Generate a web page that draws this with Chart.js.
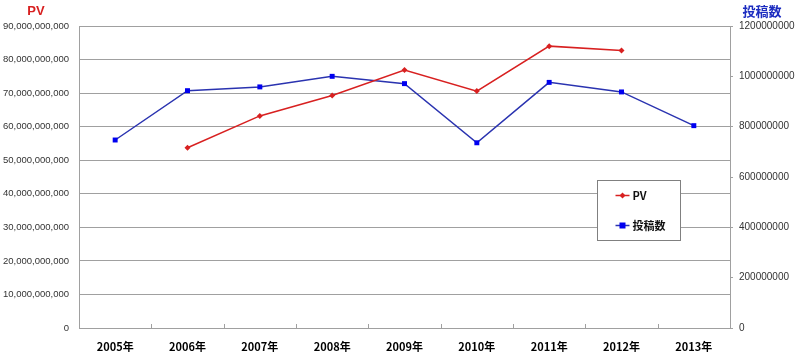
<!DOCTYPE html>
<html>
<head>
<meta charset="utf-8">
<script src="https://cdn.jsdelivr.net/npm/chart.js@4"></script>
<style>
html,body{margin:0;padding:0;background:#fff;}
#wrap{width:800px;height:359px;position:relative;}
</style>
</head>
<body>
<div id="wrap"><canvas id="c" width="800" height="359"></canvas></div>
<script>
const categories = ['2005年','2006年','2007年','2008年','2009年','2010年','2011年','2012年','2013年'];
const pvValues = [null, 53.7e9, 63.2e9, 69.3e9, 76.9e9, 70.6e9, 84.0e9, 82.7e9, null];
const postValues = [747e6, 943e6, 958e6, 1000e6, 971e6, 736e6, 976e6, 938e6, 804e6];
const leftTitle = 'PV';
const rightTitle = '投稿数';
const legendLabels = ['PV', '投稿数'];

const RED = '#d82020';
const BLUE_LINE = '#2a33b0';
const BLUE_PT = '#0000f0';
const GRID = '#a0a0a0';

const titlesPlugin = {
  id: 'titles',
  afterDraw(chart) {
    const ctx = chart.ctx;
    ctx.save();
    ctx.font = 'bold 13px "Liberation Sans", Arial, "Noto Sans CJK JP"';
    ctx.textAlign = 'center';
    ctx.textBaseline = 'middle';
    ctx.fillStyle = RED;
    ctx.fillText(leftTitle, 36, 11);
    ctx.fillStyle = '#1c2cc0';
    ctx.font = 'bold 13px "Noto Sans CJK JP", sans-serif';
    ctx.fillText(rightTitle, 762, 11);
    ctx.restore();
  }
};

const xTicksPlugin = {
  id: 'xInwardTicks',
  afterDatasetsDraw(chart) {
    const ctx = chart.ctx, xs = chart.scales.x, a = chart.chartArea;
    ctx.save();
    ctx.strokeStyle = GRID;
    ctx.lineWidth = 1;
    for (let i = 1; i < categories.length; i++) {
      const px = Math.round((xs.getPixelForTick(i - 1) + xs.getPixelForTick(i)) / 2) + 0.5;
      ctx.beginPath();
      ctx.moveTo(px, a.bottom);
      ctx.lineTo(px, a.bottom - 4);
      ctx.stroke();
    }
    ctx.restore();
  }
};

const legendPlugin = {
  id: 'boxLegend',
  afterDraw(chart) {
    const ctx = chart.ctx;
    const x = 597.5, y = 180.5, w = 83, h = 60;
    ctx.save();
    ctx.fillStyle = '#fff';
    ctx.fillRect(x, y, w, h);
    ctx.strokeStyle = '#808080';
    ctx.lineWidth = 1;
    ctx.strokeRect(x, y, w, h);
    const rows = [
      {label: legendLabels[0], color: RED, pt: RED, style: 'diamond', yy: y + 15},
      {label: legendLabels[1], color: BLUE_LINE, pt: BLUE_PT, style: 'square', yy: y + 45}
    ];
    rows.forEach(r => {
      ctx.strokeStyle = r.color;
      ctx.lineWidth = 1.5;
      ctx.beginPath();
      ctx.moveTo(x + 18, r.yy);
      ctx.lineTo(x + 32, r.yy);
      ctx.stroke();
      ctx.fillStyle = r.pt;
      const cx = x + 25;
      if (r.style === 'diamond') {
        ctx.beginPath();
        ctx.moveTo(cx, r.yy - 3); ctx.lineTo(cx + 3, r.yy); ctx.lineTo(cx, r.yy + 3); ctx.lineTo(cx - 3, r.yy);
        ctx.closePath(); ctx.fill();
      } else {
        ctx.fillRect(cx - 3, r.yy - 3, 6, 6);
      }
      ctx.fillStyle = '#111';
      ctx.font = 'bold 11px "Noto Sans CJK JP", sans-serif';
      ctx.textAlign = 'left';
      ctx.textBaseline = 'middle';
      ctx.fillText(r.label, x + 35, r.yy);
    });
    ctx.restore();
  }
};

new Chart(document.getElementById('c'), {
  type: 'line',
  data: {
    labels: categories,
    datasets: [
      {
        label: legendLabels[0], data: pvValues, yAxisID: 'y',
        borderColor: RED, backgroundColor: RED, borderWidth: 1.5,
        pointStyle: 'rectRot', pointRadius: 3, pointBorderWidth: 0,
        pointBackgroundColor: RED, tension: 0, spanGaps: false
      },
      {
        label: legendLabels[1], data: postValues, yAxisID: 'y1',
        borderColor: BLUE_LINE, backgroundColor: BLUE_PT, borderWidth: 1.5,
        pointStyle: 'rect', pointRadius: 3.5, pointBorderWidth: 0,
        pointBackgroundColor: BLUE_PT, tension: 0
      }
    ]
  },
  options: {
    responsive: false,
    animation: false,
    layout: {padding: {top: 26, left: 0, right: 0, bottom: 0}},
    plugins: {legend: {display: false}, tooltip: {enabled: false}},
    scales: {
      x: {
        offset: true,
        grid: {display: false},
        border: {display: true, color: GRID},
        ticks: {color: '#000', font: {size: 11, weight: 'bold', family: '"Noto Sans CJK JP", sans-serif'}, padding: 4, maxRotation: 0},
        afterFit(s) { s.height = 31; }
      },
      y: {
        position: 'left', min: 0, max: 90e9,
        ticks: {stepSize: 10e9, color: '#333', padding: 10,
          font: {size: 9.5, family: '"Liberation Sans", Arial'},
          callback: v => v.toLocaleString('en-US')},
        grid: {color: GRID, drawTicks: false},
        border: {display: true, color: GRID},
        afterFit(s) { s.width = 79; }
      },
      y1: {
        position: 'right', min: 0, max: 1.2e9,
        ticks: {stepSize: 2e8, color: '#333', padding: 6,
          font: {size: 10, family: '"Liberation Sans", Arial'},
          callback: v => String(v)},
        grid: {drawOnChartArea: false, color: GRID, tickLength: 3},
        border: {display: true, color: GRID},
        afterFit(s) { s.width = 70; }
      }
    }
  },
  plugins: [titlesPlugin, xTicksPlugin, legendPlugin]
});
</script>
</body>
</html>
